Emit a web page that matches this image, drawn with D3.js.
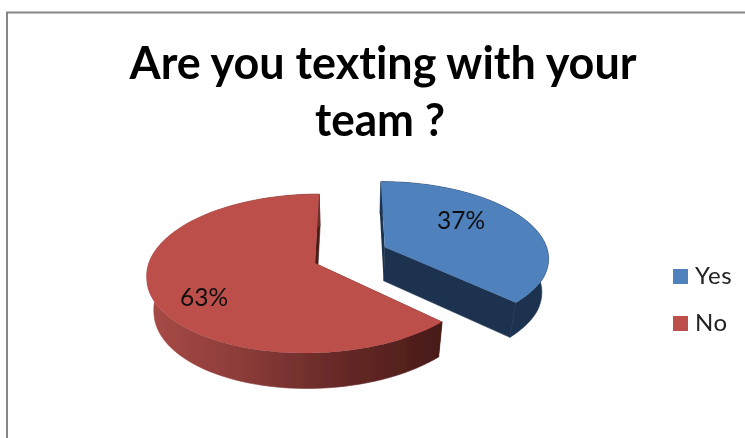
<!DOCTYPE html>
<html><head><meta charset="utf-8">
<script src="https://cdn.jsdelivr.net/npm/d3@7"></script>
<style>html,body{margin:0;padding:0;background:#fff}svg{display:block}text{font-family:Lato,"Open Sans",sans-serif;font-variant-ligatures:none}</style>
</head><body><div id="c"></div>
<script>
const categories = ["Yes", "No"];
const values = [37, 63];
const labels = ["37%", "63%"];
const titleLines = ["Are you texting with your", "team ?"];
const topColors = ["#4f81bd", "#bd4f4c"];
const W = 745, H = 438;
const root = d3.select("#c").append("svg").attr("width", W).attr("height", H);
const defs = root.append("defs");
defs.append("filter").attr("id", "soft").attr("filterUnits", "userSpaceOnUse")
  .attr("x", 0).attr("y", 0).attr("width", W).attr("height", H)
  .append("feGaussianBlur").attr("stdDeviation", 0.4);
const svg = root.append("g").attr("filter", "url(#soft)");

// frame
svg.append("path").attr("d", `M7,${H}V12.5H${W}`).attr("fill", "none").attr("stroke", "#868686").attr("stroke-width", 2);

// title
svg.selectAll(".t").data(titleLines).join("text").attr("class", "t")
  .attr("x", (d, i) => i ? 380 : 383).attr("y", (d, i) => i ? 136 : 79)
  .attr("text-anchor", "middle").attr("font-size", 46).attr("font-weight", 700).attr("fill", "#000")
  .attr("textLength", (d, i) => i ? 130 : 507).attr("lengthAdjust", "spacingAndGlyphs").text(d => d);

// gradients
const g = defs.append("linearGradient").attr("id", "redWall").attr("gradientUnits", "userSpaceOnUse")
  .attr("x1", 148).attr("x2", 438).attr("y1", 0).attr("y2", 0);
[[0, "#a84a47"], [0.3, "#8e3d3a"], [0.6, "#6c2c2a"], [1, "#4a1b19"]].forEach(s => g.append("stop").attr("offset", s[0]).attr("stop-color", s[1]));

// projection of the tilted pie plane
const cx = 350, y0 = 255, X = 164, A = 76, P = 0.13, Q = 0.035, D = 35, SHEAR = 0.03;
const project = (x, v, z) => {
  const w = 1 + P * v + Q * z;
  const sx = x + SHEAR * Math.min(0, v + 0.3);
  return [cx + X * sx / w, y0 - A * v / w + D * z / w];
};
const pie = d3.pie().sort(null).value(d => d)(values);
const apex = [[0.215, 0.105], [-0.21, -0.105]];
const line = d3.line();

function arcPts(s, i, z) {
  const n = 90, [ax, av] = apex[i];
  return d3.range(n + 1).map(k => {
    const a = s.startAngle + (s.endAngle - s.startAngle) * k / n;
    return project(ax + Math.sin(a), av + Math.cos(a), z);
  });
}

pie.forEach((s, i) => {
  const [ax, av] = apex[i];
  const top = arcPts(s, i, 0), bot = arcPts(s, i, 1);
  const a0 = project(ax, av, 0), a1 = project(ax, av, 1);
  const wall = i === 0 ? "#1d3350" : "url(#redWall)";
  const inner = i === 0 ? "#1d3350" : "#4a1b19";
  const layer = svg.append("g");
  // cut faces
  layer.append("path").attr("d", line([a0, top[0], bot[0], a1]) + "Z").attr("fill", inner);
  layer.append("path").attr("d", line([a0, top[90], bot[90], a1]) + "Z").attr("fill", inner).attr("stroke", inner).attr("stroke-width", 0.6);
  // outer wall
  layer.append("path").attr("d", line(top.concat(bot.slice().reverse())) + "Z").attr("fill", wall).attr("stroke", wall).attr("stroke-width", 0.6);
  // top face
  layer.append("path").attr("d", line([a0].concat(top)) + "Z").attr("fill", topColors[i]);
});

// data labels
const labelPos = [[461, 220], [204, 297]];
svg.selectAll(".l").data(labels).join("text").attr("class", "l")
  .attr("x", (d, i) => labelPos[i][0]).attr("y", (d, i) => labelPos[i][1])
  .attr("dy", "0.36em").attr("text-anchor", "middle").attr("font-size", 24.5).attr("fill", "#111").text(d => d);

// legend
const lg = svg.selectAll(".lg").data(categories).join("g").attr("class", "lg")
  .attr("transform", (d, i) => `translate(673,${i ? 316 : 269})`);
lg.append("rect").attr("width", 15).attr("height", 15).attr("fill", (d, i) => topColors[i]);
lg.append("text").attr("x", 22).attr("y", 15).attr("font-size", 24).attr("letter-spacing", 0.6).attr("fill", "#222").text(d => d);
</script></body></html>
